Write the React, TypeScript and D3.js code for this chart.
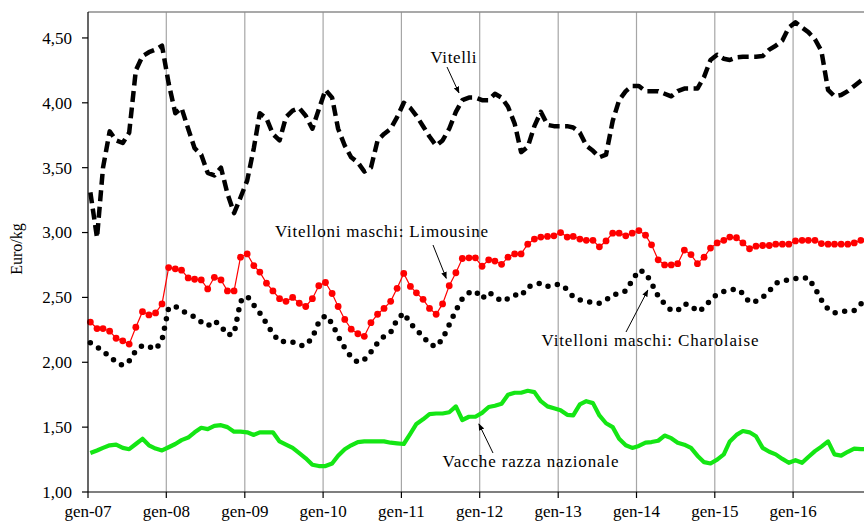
import React from "react";
import * as d3 from "d3";

const START_YEAR = 2007;
const N_MONTHS = 120;

const yearLabels = ["gen-07", "gen-08", "gen-09", "gen-10", "gen-11", "gen-12", "gen-13", "gen-14", "gen-15", "gen-16"];
const yTicks = [1.0, 1.5, 2.0, 2.5, 3.0, 3.5, 4.0, 4.5];

const vitelli = [
  3.31, 2.96, 3.50, 3.78, 3.71, 3.69, 3.77, 4.25, 4.36, 4.39, 4.41, 4.44,
  4.15, 3.92, 3.96, 3.80, 3.65, 3.60, 3.46, 3.44, 3.50, 3.30, 3.15, 3.27,
  3.40, 3.65, 3.92, 3.88, 3.76, 3.71, 3.89, 3.94, 3.96, 3.90, 3.80, 3.95,
  4.10, 4.04, 3.80, 3.67, 3.58, 3.54, 3.47, 3.50, 3.71, 3.76, 3.80, 3.89,
  4.00, 3.96, 3.90, 3.82, 3.74, 3.67, 3.71, 3.80, 3.93, 4.02, 4.04, 4.04,
  4.02, 4.02, 4.07, 4.04, 3.97, 3.84, 3.62, 3.66, 3.82, 3.93, 3.83, 3.82,
  3.82, 3.82, 3.81, 3.77, 3.67, 3.63, 3.58, 3.60, 3.86, 4.02, 4.09, 4.13,
  4.13, 4.09, 4.09, 4.09, 4.07, 4.05, 4.09, 4.11, 4.11, 4.11, 4.20, 4.33,
  4.37, 4.34, 4.33, 4.35, 4.355, 4.355, 4.355, 4.36, 4.41, 4.44, 4.48, 4.58,
  4.62, 4.58, 4.545, 4.49, 4.40, 4.10, 4.05, 4.06, 4.09, 4.13, 4.17, 4.20,
];

const limousine = [
  2.31, 2.26, 2.26, 2.24, 2.185, 2.165, 2.14, 2.27, 2.39, 2.365, 2.38, 2.45,
  2.73, 2.72, 2.71, 2.65, 2.64, 2.635, 2.565, 2.655, 2.635, 2.55, 2.55, 2.81,
  2.835, 2.745, 2.695, 2.61, 2.55, 2.49, 2.47, 2.50, 2.455, 2.43, 2.49, 2.59,
  2.615, 2.53, 2.43, 2.33, 2.255, 2.22, 2.20, 2.305, 2.37, 2.415, 2.47, 2.57,
  2.685, 2.585, 2.535, 2.485, 2.415, 2.37, 2.45, 2.59, 2.69, 2.80, 2.805, 2.805,
  2.74, 2.79, 2.78, 2.755, 2.81, 2.835, 2.835, 2.91, 2.95, 2.965, 2.97, 2.975,
  3.00, 2.965, 2.97, 2.95, 2.94, 2.94, 2.89, 2.935, 2.995, 2.995, 2.975, 2.995,
  3.015, 2.98, 2.905, 2.79, 2.75, 2.75, 2.76, 2.865, 2.83, 2.76, 2.81, 2.88,
  2.92, 2.94, 2.965, 2.96, 2.92, 2.875, 2.895, 2.90, 2.90, 2.91, 2.91, 2.91,
  2.935, 2.94, 2.94, 2.94, 2.915, 2.91, 2.91, 2.91, 2.91, 2.92, 2.94, 2.95,
];

const charolaise = [
  2.15, 2.12, 2.08, 2.05, 2.00, 1.975, 2.01, 2.09, 2.13, 2.12, 2.10, 2.17,
  2.42, 2.43, 2.40, 2.37, 2.35, 2.31, 2.28, 2.32, 2.28, 2.21, 2.22, 2.47,
  2.51, 2.44, 2.38, 2.30, 2.22, 2.16, 2.16, 2.155, 2.13, 2.13, 2.19, 2.31,
  2.36, 2.30, 2.20, 2.11, 2.04, 2.00, 2.02, 2.08, 2.15, 2.20, 2.23, 2.33,
  2.38, 2.30, 2.25, 2.20, 2.14, 2.12, 2.18, 2.29, 2.40, 2.49, 2.535, 2.55,
  2.49, 2.54, 2.51, 2.47, 2.49, 2.52, 2.51, 2.58, 2.60, 2.61, 2.585, 2.60,
  2.60, 2.56, 2.505, 2.48, 2.47, 2.46, 2.455, 2.48, 2.52, 2.53, 2.55, 2.63,
  2.71, 2.69, 2.61, 2.51, 2.45, 2.40, 2.40, 2.45, 2.44, 2.39, 2.42, 2.48,
  2.525, 2.545, 2.555, 2.565, 2.53, 2.46, 2.47, 2.50, 2.55, 2.61, 2.625, 2.635,
  2.645, 2.65, 2.65, 2.57, 2.48, 2.41, 2.38, 2.39, 2.395, 2.40, 2.45, 2.49,
];

const vacche = [
  1.30, 1.32, 1.34, 1.36, 1.365, 1.34, 1.33, 1.37, 1.41, 1.36, 1.335, 1.32,
  1.345, 1.37, 1.40, 1.42, 1.46, 1.495, 1.485, 1.51, 1.515, 1.50, 1.465, 1.465,
  1.46, 1.44, 1.46, 1.46, 1.46, 1.39, 1.365, 1.34, 1.30, 1.26, 1.21, 1.20,
  1.20, 1.22, 1.28, 1.33, 1.36, 1.385, 1.39, 1.39, 1.39, 1.39, 1.38, 1.375,
  1.37, 1.45, 1.525, 1.56, 1.60, 1.605, 1.605, 1.615, 1.66, 1.555, 1.58, 1.58,
  1.61, 1.655, 1.665, 1.68, 1.75, 1.765, 1.765, 1.78, 1.77, 1.70, 1.66, 1.645,
  1.63, 1.595, 1.59, 1.675, 1.70, 1.685, 1.59, 1.53, 1.50, 1.41, 1.36, 1.34,
  1.355, 1.38, 1.385, 1.395, 1.435, 1.415, 1.38, 1.365, 1.34, 1.28, 1.23, 1.22,
  1.25, 1.29, 1.39, 1.44, 1.47, 1.46, 1.43, 1.34, 1.31, 1.29, 1.255, 1.225,
  1.245, 1.225, 1.27, 1.315, 1.35, 1.39, 1.29, 1.28, 1.31, 1.335, 1.33, 1.33,
];

// annotations: label text, target series and month index
const annotations = [
  { text: "Vitelli", series: "vitelli", idx: 57, tx: 430.5, ty: 63, tl: 46, ax: 447, ay: 67 },
  { text: "Vitelloni maschi: Limousine", series: "limousine", idx: 55, tx: 275, ty: 237, tl: 213, ax: 433, ay: 245 },
  { text: "Vitelloni maschi: Charolaise", series: "charolaise", idx: 86, tx: 541.5, ty: 345.5, tl: 217, ax: 626, ay: 332 },
  { text: "Vacche razza nazionale", series: "vacche", idx: 59, tx: 442.5, ty: 467, tl: 176, ax: 493, ay: 453 },
];

const W = 864;
const H = 522;
const FONT = "'Liberation Serif', 'Times New Roman', serif";

export default function App() {
  const dates = d3.range(N_MONTHS).map((i) => new Date(START_YEAR, i, 12));
  const x = d3
    .scaleTime()
    .domain([new Date(START_YEAR, 0, 1), new Date(START_YEAR + 10, 0, 1)])
    .range([88, 871.6]);
  const y = d3.scaleLinear().domain([1, 4.7]).range([492, 12]);

  const line = d3
    .line<number>()
    .x((_, i) => x(dates[i]))
    .y((d) => y(d))
    .curve(d3.curveLinear);

  const years = d3.range(10).map((k) => new Date(START_YEAR + k, 0, 1));
  const seriesMap: Record<string, number[]> = { vitelli, limousine, charolaise, vacche };

  const x0 = 88;
  const yTop = 12;
  const yBot = 492;
  const fmt = (v: number) => v.toFixed(2).replace(".", ",");

  return (
    <svg
      width={W}
      height={H}
      style={{ position: "absolute", left: 0, top: 0, background: "#fff" }}
      fontFamily={FONT}
    >
      <defs>
        <marker id="arr" viewBox="0 0 10 10" refX="9" refY="5" markerWidth="7" markerHeight="7" orient="auto-start-reverse" markerUnits="userSpaceOnUse">
          <path d="M0,1 L10,5 L0,9 z" fill="#000" />
        </marker>
      </defs>
      <rect x={0} y={0} width={W} height={H} fill="#fff" />
      {years.slice(1).map((d, k) => (
        <line key={k} x1={x(d)} x2={x(d)} y1={yTop} y2={yBot} stroke="#a6a6a6" strokeWidth={1.2} />
      ))}
      <line x1={x0} x2={W + 20} y1={yTop} y2={yTop} stroke="#8c8c8c" strokeWidth={1.5} />

      <path d={line(vacche) || ""} fill="none" stroke="#14e614" strokeWidth={4.2} strokeLinejoin="round" />
      <path d={line(charolaise) || ""} fill="none" stroke="#000" strokeWidth={5.5} strokeLinecap="round" strokeDasharray="0 9.6" strokeLinejoin="round" />
      <path d={line(limousine) || ""} fill="none" stroke="#f00" strokeWidth={1.2} />
      {limousine.map((v, i) => (
        <circle key={i} cx={x(dates[i])} cy={y(v)} r={3.4} fill="#f00" />
      ))}
      <path d={line(vitelli) || ""} fill="none" stroke="#000" strokeWidth={4.5} strokeDasharray="11 5.5" strokeLinejoin="round" />

      <line x1={x0} x2={x0} y1={yTop} y2={yBot} stroke="#000" strokeWidth={1.2} />
      <line x1={x0} x2={W + 20} y1={yBot} y2={yBot} stroke="#000" strokeWidth={1.2} />
      {yTicks.map((t) => (
        <g key={t}>
          <line x1={x0 - 6} x2={x0} y1={y(t)} y2={y(t)} stroke="#000" strokeWidth={1.2} />
          <text x={72} y={y(t)} dy="0.35em" textAnchor="end" fontSize={17} fill="#000">
            {fmt(t)}
          </text>
        </g>
      ))}
      {years.map((d, k) => (
        <g key={k}>
          <line x1={x(d)} x2={x(d)} y1={yBot} y2={yBot + 6} stroke="#000" strokeWidth={1.2} />
          <text x={x(d)} y={517} textAnchor="middle" fontSize={17} fill="#000">
            {yearLabels[k]}
          </text>
        </g>
      ))}
      <text transform={`translate(22,249) rotate(-90)`} textAnchor="middle" fontSize={16} fill="#000">
        Euro/kg
      </text>

      {annotations.map((a, k) => {
        const v = seriesMap[a.series][a.idx];
        const px = x(dates[a.idx]);
        const py = y(v);
        const dx = px - a.ax;
        const dy = py - a.ay;
        const len = Math.sqrt(dx * dx + dy * dy);
        const gap = 8;
        const ex = px - (dx / len) * gap;
        const ey = py - (dy / len) * gap;
        return (
          <g key={k}>
            <text x={a.tx} y={a.ty} textLength={a.tl} lengthAdjust="spacing" fontSize={17} fill="#000">
              {a.text}
            </text>
            <line x1={a.ax} y1={a.ay} x2={ex} y2={ey} stroke="#000" strokeWidth={1} markerEnd="url(#arr)" />
          </g>
        );
      })}
    </svg>
  );
}
